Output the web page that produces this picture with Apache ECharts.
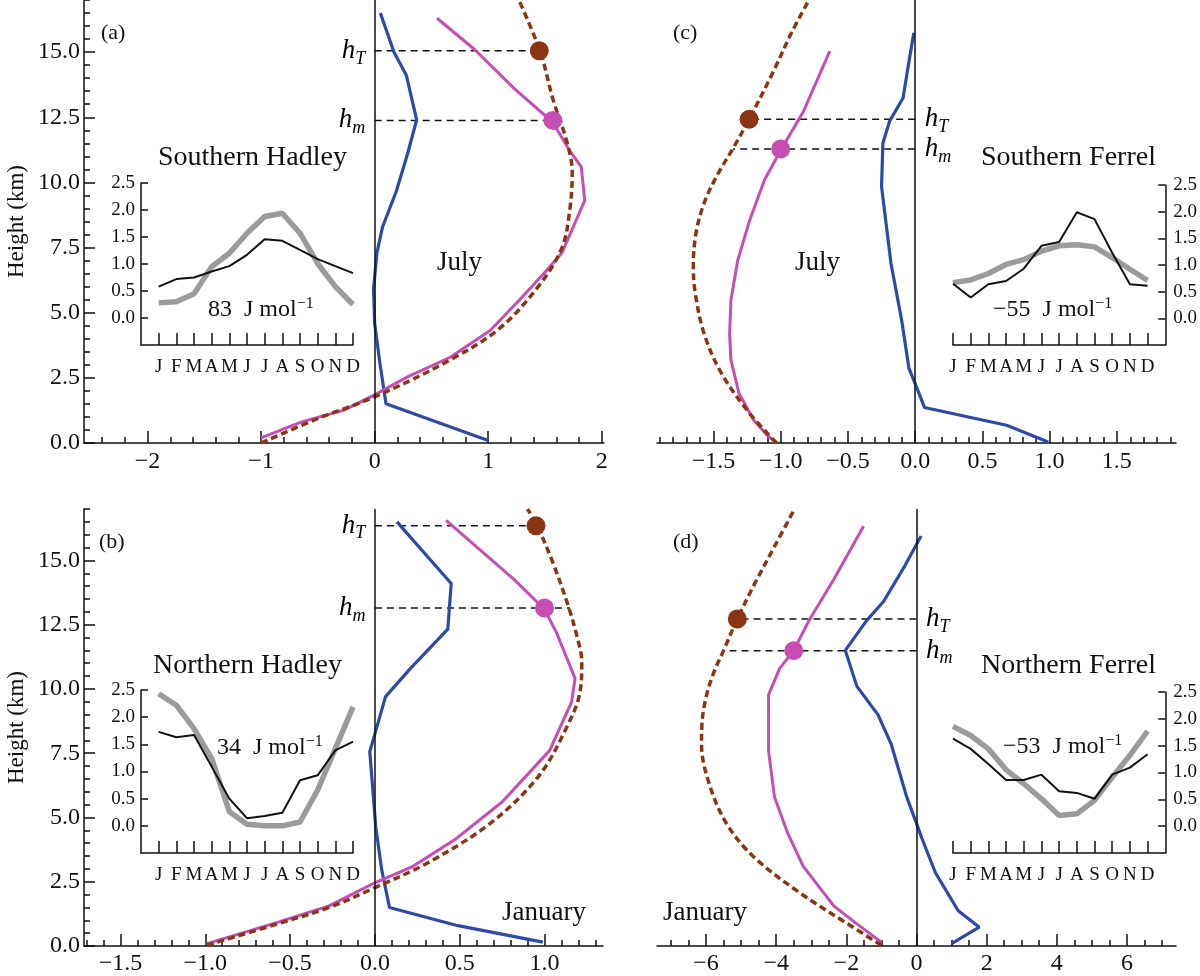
<!DOCTYPE html>
<html>
<head>
<meta charset="utf-8">
<script src="https://cdn.jsdelivr.net/npm/echarts@6/dist/echarts.min.js"></script>
<style>
  html, body { margin: 0; background: #fff; }
  #chart { width: 1200px; height: 976px; }
</style>
</head>
<body>
<div id="chart"></div>
<script>
/* Four vertical profiles (height vs normalised value) with seasonal-cycle insets. */

const months = ['J', 'F', 'M', 'A', 'M', 'J', 'J', 'A', 'S', 'O', 'N', 'D'];
const heightTicks = [0, 2.5, 5, 7.5, 10, 12.5, 15];
const insetTicks = [0, 0.5, 1, 1.5, 2, 2.5];
const aXTicks = [-2, -1, 0, 1, 2];
const bXTicks = [-1.5, -1, -0.5, 0, 0.5, 1];
const cXTicks = [-1.5, -1, -0.5, 0, 0.5, 1, 1.5];
const dXTicks = [-6, -4, -2, 0, 2, 4, 6];

// (a) Southern Hadley, July  -- [x, height km]
const aBlue = [[1.0, 0.1], [0.1, 1.51], [0.045, 3.1], [0.0, 4.6], [-0.01, 5.9], [0.02, 7.3], [0.07, 8.3],
  [0.19, 9.65], [0.29, 11.1], [0.37, 12.4], [0.28, 14.1], [0.17, 15.0], [0.05, 16.5]];
const aMagenta = [[-1.0, 0.2], [-0.65, 0.8], [-0.27, 1.26], [0, 1.85], [0.29, 2.54], [0.67, 3.3], [1.02, 4.33],
  [1.3, 5.6], [1.51, 6.6], [1.65, 7.3], [1.85, 9.3], [1.82, 10.6], [1.72, 11.2], [1.57, 12.3], [1.23, 13.6],
  [0.88, 15.1], [0.55, 16.3]];
const aBrown = [[-1, 0.0], [-0.5, 0.94], [0, 1.77], [0.67, 3.2], [1.1, 4.4], [1.44, 6.0], [1.65, 7.5], [1.72, 9.0],
  [1.74, 10.4], [1.69, 11.6], [1.57, 13.2], [1.46, 15.0], [1.27, 17.0]];
const aLevels = [15.05, 12.38];      // hT, hm
const aDotX = [1.45, 1.57];          // brown dot at hT, magenta dot at hm
const aDashEnd = [1.45, 1.57];

// (b) Northern Hadley, January
const bBlue = [[0.99, 0.15], [0.49, 0.79], [0.086, 1.5], [0.04, 2.97], [0.005, 4.64], [-0.03, 7.56], [0.063, 9.7],
  [0.21, 10.8], [0.43, 12.33], [0.45, 14.1], [0.13, 16.5]];
const bMagenta = [[-0.99, 0.09], [-0.575, 0.92], [-0.27, 1.56], [0, 2.46], [0.225, 3.1], [0.47, 4.13], [0.75, 5.6],
  [1.03, 7.6], [1.16, 9.5], [1.18, 10.4], [1.15, 10.9], [1.07, 12.2], [1.0, 13.1], [0.82, 14.26], [0.42, 16.56]];
const bBrown = [[-0.99, 0.03], [-0.575, 0.86], [-0.27, 1.5], [0, 2.27], [0.31, 3.23], [0.68, 4.77], [0.96, 6.56],
  [1.12, 8.36], [1.21, 9.9], [1.22, 11.05], [1.19, 12.08], [1.14, 13.23], [1.05, 14.9], [0.96, 16.3], [0.9, 17.0]];
const bLevels = [16.35, 13.15];
const bDotX = [0.95, 1.0];
const bDashEnd = [0.95, 1.15];

// (c) Southern Ferrel, July
const cBlue = [[0.99, 0.04], [0.68, 0.68], [0.07, 1.36], [0, 2.28], [-0.046, 2.86], [-0.1, 4.7], [-0.18, 6.9],
  [-0.25, 9.85], [-0.24, 11.5], [-0.19, 12.35], [-0.09, 13.24], [-0.06, 14.2], [-0.01, 15.74]];
const cMagenta = [[-1.03, 0], [-1.1, 0.29], [-1.2, 0.87], [-1.31, 1.9], [-1.37, 3.18], [-1.38, 4.2], [-1.37, 5.49],
  [-1.32, 7.0], [-1.23, 8.56], [-1.12, 10.1], [-1.0, 11.23], [-0.83, 12.73], [-0.635, 15.04]];
const cBrown = [[-1.03, 0], [-1.23, 1.13], [-1.44, 2.67], [-1.57, 4.2], [-1.635, 5.74], [-1.65, 6.77], [-1.63, 8.05],
  [-1.57, 9.2], [-1.47, 10.3], [-1.355, 11.3], [-1.235, 12.42], [-1.06, 14.2], [-0.92, 15.74], [-0.79, 17]];
const cLevels = [12.42, 11.28];
const cDotX = [-1.235, -1.0];
const cDashEnd = [-1.235, -1.355];

// (d) Northern Ferrel, January
const dBlue = [[1.0, 0.09], [1.79, 0.73], [1.19, 1.37], [0.54, 2.85], [0.15, 4.2], [0, 4.77], [-0.28, 5.8],
  [-0.72, 7.85], [-1.1, 9.0], [-1.7, 10.1], [-2.03, 11.5], [-1.43, 12.65], [-0.94, 13.4], [-0.34, 14.77], [0.13, 15.95]];
const dMagenta = [[-1.0, 0.15], [-1.7, 0.86], [-2.36, 1.56], [-3.23, 3.1], [-3.67, 4.38], [-4.05, 5.8], [-4.22, 7.6],
  [-4.22, 9.77], [-3.9, 10.8], [-3.5, 11.5], [-3.07, 12.65], [-2.36, 14.26], [-1.51, 16.33]];
const dBrown = [[-1.0, 0.03], [-2.03, 0.92], [-3.34, 2.08], [-4.66, 3.49], [-5.42, 4.77], [-5.91, 6.3], [-6.13, 7.85],
  [-6.12, 8.6], [-6.03, 9.5], [-5.82, 10.5], [-5.5, 11.5], [-5.11, 12.72], [-4.6, 14.13], [-4.05, 15.54], [-3.51, 16.92]];
const dLevels = [12.72, 11.49];
const dDotX = [-5.11, -3.5];
const dDashEnd = [-5.11, -5.5];

// insets: monthly values, J..D
const aGray = [0.28, 0.30, 0.45, 0.95, 1.2, 1.57, 1.88, 1.94, 1.57, 1.01, 0.58, 0.25];
const aBlack = [0.58, 0.72, 0.75, 0.86, 0.96, 1.17, 1.46, 1.43, 1.26, 1.09, 0.96, 0.83];
const bGray = [2.43, 2.22, 1.79, 1.24, 0.26, 0.03, 0.0, 0.0, 0.07, 0.66, 1.42, 2.19];
const bBlack = [1.73, 1.63, 1.67, 1.09, 0.5, 0.14, 0.18, 0.24, 0.84, 0.93, 1.39, 1.55];
const cGray = [0.67, 0.72, 0.84, 1.01, 1.1, 1.26, 1.36, 1.38, 1.34, 1.14, 0.92, 0.71];
const cBlack = [0.65, 0.39, 0.64, 0.70, 0.93, 1.36, 1.43, 1.99, 1.86, 1.23, 0.64, 0.61];
const dGray = [1.86, 1.69, 1.44, 1.05, 0.79, 0.51, 0.2, 0.23, 0.48, 0.91, 1.32, 1.77];
const dBlack = [1.63, 1.44, 1.16, 0.86, 0.86, 0.96, 0.65, 0.62, 0.51, 0.96, 1.09, 1.34];

const FONT = "'Liberation Serif', 'Times New Roman', serif";
const C = { blue: '#2D4AA6', magenta: '#C64DB3', brown: '#8A3614', gray: '#9B9B9B', ink: '#111111' };

const grid = [], xAxis = [], yAxis = [], series = [];

function fmt(v, d) { return v.toFixed(d).replace('-', '\u2212'); }

// tick positions between lo and hi every `step`, leaving out multiples of `major`
function minorTicks(lo, hi, step, major) {
  const out = [];
  for (let i = Math.ceil(lo / step - 1e-9); i * step <= hi + 1e-9; i++) {
    const v = +(i * step).toFixed(4);
    const r = v / major;
    if (Math.abs(r - Math.round(r)) > 1e-6) out.push(v);
  }
  return out;
}

const tickLine = { color: C.ink, width: 1.5 };

function mainPanel(p) {
  const gi = grid.length;
  grid.push(p.box);
  const xi = xAxis.length;
  xAxis.push({
    type: 'value', gridIndex: gi, min: p.xMin, max: p.xMax, position: 'bottom',
    axisLine: { onZero: false, lineStyle: tickLine },
    axisTick: { inside: true, length: 12, customValues: p.xTicks, lineStyle: tickLine },
    axisLabel: { customValues: p.xTicks, formatter: (v) => fmt(v, p.dec), color: C.ink,
      fontSize: 24, fontFamily: FONT, margin: p.labelMargin },
    splitLine: { show: false },
  }, {
    type: 'value', gridIndex: gi, min: p.xMin, max: p.xMax, position: 'bottom',
    axisLine: { show: false, onZero: false },
    axisTick: { inside: true, length: 6, customValues: minorTicks(p.xMin, p.xMax, p.minorStep, p.majorStep), lineStyle: tickLine },
    axisLabel: { show: false },
    splitLine: { show: false },
  });
  const yi = yAxis.length;
  if (p.yLabels) {
    yAxis.push({
      type: 'value', gridIndex: gi, min: 0, max: 17, position: 'left',
      name: 'Height (km)', nameLocation: 'middle', nameGap: 56, nameRotate: 90,
      nameTextStyle: { fontSize: 23, fontFamily: FONT, color: C.ink },
      axisLine: { onZero: false, lineStyle: tickLine },
      axisTick: { inside: true, length: 11, customValues: heightTicks, lineStyle: tickLine },
      axisLabel: { customValues: heightTicks, formatter: (v) => v.toFixed(1), color: C.ink,
        fontSize: 24, fontFamily: FONT, margin: 4 },
      splitLine: { show: false },
    }, {
      type: 'value', gridIndex: gi, min: 0, max: 17, position: 'left',
      axisLine: { show: false, onZero: false },
      axisTick: { inside: true, length: 6, customValues: minorTicks(0, 17, 0.5, 2.5), lineStyle: tickLine },
      axisLabel: { show: false },
      splitLine: { show: false },
    });
  } else {
    yAxis.push({ type: 'value', gridIndex: gi, min: 0, max: 17, show: false, axisLine: { onZero: false } });
  }

  const base = { xAxisIndex: xi, yAxisIndex: yi, symbol: 'none', silent: true, animation: false };
  const [hT, hm] = p.levels;
  const dash = { color: C.ink, width: 1.5, type: [7, 5] };
  const sub = (s) => ({
    show: true, position: p.labelSide, distance: 9, fontSize: 27, color: '#000', opacity: 1,
    formatter: '{h|h}{s|' + s + '}',
    rich: {
      h: { fontSize: 27, fontStyle: 'italic', fontFamily: FONT, lineHeight: 34, color: '#000' },
      s: { fontSize: 18, fontStyle: 'italic', fontFamily: FONT, verticalAlign: 'bottom', color: '#000' },
    },
  });

  series.push(
    { ...base, type: 'line', data: [[0, hT], [p.dashEnd[0], hT]], lineStyle: dash, z: 2 },
    { ...base, type: 'line', data: [[0, hm], [p.dashEnd[1], hm]], lineStyle: dash, z: 2 },
    {
      ...base, type: 'line', data: p.blue, lineStyle: { color: C.blue, width: 3.2 }, z: 3,
      markLine: {
        silent: true, symbol: ['none', 'none'], animation: false, label: { show: false },
        lineStyle: { color: C.ink, width: 1.5, type: 'solid' }, data: [{ xAxis: 0 }],
      },
    },
    { ...base, type: 'line', data: p.magenta, lineStyle: { color: C.magenta, width: 3 }, z: 3 },
    { ...base, type: 'line', data: p.brown, smooth: 0.35, lineStyle: { color: C.brown, width: 3.5, type: [7, 4] }, z: 4 },
    {
      ...base, type: 'scatter', symbol: 'circle', symbolSize: 19, z: 6,
      itemStyle: { opacity: 1 },
      data: [
        { value: [p.dotX[0], hT], itemStyle: { color: C.brown, opacity: 1 } },
        { value: [p.dotX[1], hm], itemStyle: { color: C.magenta, opacity: 1 } },
      ],
    },
    {
      ...base, type: 'scatter', symbol: 'circle', symbolSize: 1, z: 7,
      itemStyle: { color: 'rgba(0,0,0,0)', opacity: 1 },
      data: [{ value: [0, hT], label: sub('T') }, { value: [0, hm], label: sub('m') }],
    }
  );
}

function inset(p) {
  const gi = grid.length;
  grid.push(p.box);
  const monthIdx = months.map((m, i) => i);
  const xi = xAxis.length;
  xAxis.push({
    type: 'value', gridIndex: gi, min: p.xMin, max: p.xMin + 12, position: 'bottom',
    axisLine: { onZero: false, lineStyle: tickLine },
    axisTick: { inside: true, length: 12, customValues: monthIdx, lineStyle: tickLine },
    axisLabel: { customValues: monthIdx, formatter: (v) => months[Math.round(v)] || '', color: C.ink,
      fontSize: 19, fontFamily: FONT, margin: 13 },
    splitLine: { show: false },
  });
  const yi = yAxis.length;
  yAxis.push({
    type: 'value', gridIndex: gi, min: -0.5, max: 2.5, position: p.side,
    axisLine: { onZero: false, lineStyle: tickLine },
    axisTick: { inside: true, length: 7, customValues: insetTicks, lineStyle: tickLine },
    axisLabel: { customValues: insetTicks, formatter: (v) => v.toFixed(1), color: C.ink,
      fontSize: 19, fontFamily: FONT, margin: p.side === 'left' ? 6 : 8 },
    splitLine: { show: false },
  });
  const base = { xAxisIndex: xi, yAxisIndex: yi, type: 'line', symbol: 'none', silent: true, animation: false };
  series.push(
    { ...base, data: p.gray.map((v, i) => [i, v]), lineStyle: { color: C.gray, width: 5.5 }, z: 3 },
    { ...base, data: p.black.map((v, i) => [i, v]), lineStyle: { color: C.ink, width: 2 }, z: 4 }
  );
}

mainPanel({ box: { left: 84, top: 0, width: 520, height: 443 }, xMin: -2.56, xMax: 2.02, xTicks: aXTicks, dec: 0,
  majorStep: 1, minorStep: 0.2, labelMargin: 7, yLabels: true, labelSide: 'left',
  blue: aBlue, magenta: aMagenta, brown: aBrown, levels: aLevels, dotX: aDotX, dashEnd: aDashEnd });
mainPanel({ box: { left: 84, top: 509, width: 519, height: 443 }, xMin: -1.715, xMax: 1.345, xTicks: bXTicks, dec: 1,
  majorStep: 0.5, minorStep: 0.1, labelMargin: 6, yLabels: true, labelSide: 'left',
  blue: bBlue, magenta: bMagenta, brown: bBrown, levels: bLevels, dotX: bDotX, dashEnd: bDashEnd });
mainPanel({ box: { left: 657, top: 0, width: 519, height: 443 }, xMin: -1.92, xMax: 1.94, xTicks: cXTicks, dec: 1,
  majorStep: 0.5, minorStep: 0.1, labelMargin: 7, yLabels: false, labelSide: 'right',
  blue: cBlue, magenta: cMagenta, brown: cBrown, levels: cLevels, dotX: cDotX, dashEnd: cDashEnd });
mainPanel({ box: { left: 657, top: 509, width: 519, height: 443 }, xMin: -7.4, xMax: 7.4, xTicks: dXTicks, dec: 0,
  majorStep: 2, minorStep: 0.5, labelMargin: 6, yLabels: false, labelSide: 'right',
  blue: dBlue, magenta: dMagenta, brown: dBrown, levels: dLevels, dotX: dDotX, dashEnd: dDashEnd });

inset({ box: { left: 141, top: 183, width: 212, height: 162 }, xMin: -1, side: 'left', gray: aGray, black: aBlack });
inset({ box: { left: 141, top: 690, width: 212, height: 163 }, xMin: -1, side: 'left', gray: bGray, black: bBlack });
inset({ box: { left: 953, top: 185, width: 213, height: 160 }, xMin: 0, side: 'right', gray: cGray, black: cBlack });
inset({ box: { left: 953, top: 692, width: 213, height: 161 }, xMin: 0, side: 'right', gray: dGray, black: dBlack });

function txt(x, y, text, size) {
  return { type: 'text', x, y, silent: true, z: 10,
    style: { text, fill: C.ink, font: size + 'px ' + FONT, align: 'left', verticalAlign: 'middle' } };
}
function energy(x, y, num) {
  return { type: 'text', x, y, silent: true, z: 10,
    style: {
      text: '{t|' + num + '  J mol}{p|\u22121}', align: 'left', verticalAlign: 'middle', fill: C.ink,
      rich: {
        t: { fontSize: 24, fontFamily: FONT, lineHeight: 28, fill: C.ink },
        p: { fontSize: 16, fontFamily: FONT, verticalAlign: 'top', fill: C.ink },
      },
    } };
}

const graphic = [
  txt(101, 33, '(a)', 22), txt(99, 542, '(b)', 22), txt(673, 33, '(c)', 22), txt(673, 542, '(d)', 22),
  txt(158, 158, 'Southern Hadley', 28), txt(153, 666, 'Northern Hadley', 28),
  txt(981, 158, 'Southern Ferrel', 28), txt(981, 666, 'Northern Ferrel', 28),
  txt(437, 263, 'July', 27), txt(795, 263, 'July', 27),
  txt(502, 913, 'January', 27), txt(663, 913, 'January', 27),
  energy(208, 310, '83'), energy(217, 748, '34'),
  energy(993, 310, '\u221255'), energy(1003, 747, '\u221253'),
];

const chart = echarts.init(document.getElementById('chart'), null, { renderer: 'canvas' });
chart.setOption({
  animation: false,
  backgroundColor: '#ffffff',
  textStyle: { fontFamily: FONT },
  grid, xAxis, yAxis, series, graphic,
});
</script>
</body>
</html>
